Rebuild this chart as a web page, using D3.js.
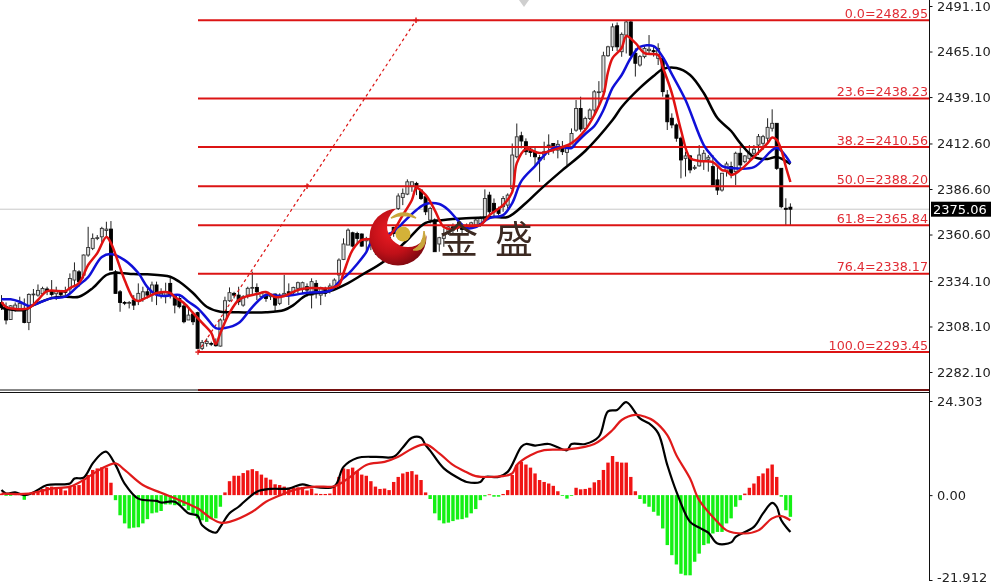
<!DOCTYPE html>
<html><head><meta charset="utf-8">
<script src="https://cdn.jsdelivr.net/npm/d3@7/dist/d3.min.js"></script>
<style>html,body{margin:0;padding:0;background:#fff;overflow:hidden}svg{display:block;filter:blur(0.45px)}</style>
</head><body><svg id="c" width="991" height="585"></svg>
<script>
const highs=[2326,2321.8,2320.3,2321.8,2325.1,2324.1,2327,2329.5,2332.1,2330.8,
2330.8,2334.6,2330.8,2328.9,2330.8,2338.4,2344.7,2340.3,2349.2,2365,
2361.2,2360.3,2365,2367.9,2368.3,2340.3,2328.9,2322.6,2322.6,2326,
2332.7,2330.8,2329.9,2333.7,2333.7,2329.9,2333.1,2336.5,2326,2326,
2321.3,2318.4,2316.5,2316.5,2300.4,2301.3,2299.4,2301.3,2312.7,2325.1,
2330.4,2327.9,2330.8,2326,2330.8,2339.4,2332.7,2327.9,2327,2327,
2327,2327,2337.5,2332.7,2330.8,2333.7,2333.7,2332.7,2335.6,2334.6,
2330.8,2330.8,2332.7,2335.6,2347,2358.4,2364.1,2362.2,2362.2,2361.2,
2359.3,2359.3,2358,2360,2359,2362,2365,2384.1,2386.9,2392.1,
2390.7,2390.7,2386,2382.2,2376.5,2369.8,2359.3,2364.1,2366,2366.9,
2367.9,2366.9,2366.9,2367.9,2369.8,2370.8,2386.4,2385,2381.2,2376.5,
2382.6,2384.1,2412.6,2424,2419.3,2415.5,2410.7,2410.7,2406,2413.6,
2417.8,2412.6,2414.5,2414,2411.7,2421.2,2437.4,2439.3,2427.9,2432.6,
2443.1,2448.2,2465,2468.4,2481.1,2481.7,2476,2483,2483,2466.9,
2463.1,2468.8,2474.5,2468.8,2469.8,2462.2,2443.1,2429.8,2424.1,2416.5,
2407.9,2406,2400.3,2411.7,2408.9,2406,2406,2399.4,2395.6,2402.2,
2402.2,2407.9,2411.7,2406,2411.7,2411.7,2418,2417.5,2427,2432.1,
2424.1,2398.4,2381.3,2378.4];
const lows=[2317.5,2309.3,2311.8,2316.5,2317.5,2309.9,2306,2321.3,2325.1,2326,
2326,2325.1,2323.2,2325.1,2326,2327,2330.8,2330.8,2335.5,2347.9,
2351.7,2357.4,2355.5,2359.3,2340.3,2327,2316.5,2320.3,2318.4,2317.5,
2320.3,2322.2,2324.1,2322.2,2320.3,2324.1,2321.3,2324.1,2315.6,2318.4,
2309.9,2311.8,2308.9,2295.6,2294.6,2296.6,2296.9,2296.6,2296.6,2311.8,
2322.2,2324.1,2320.3,2319.4,2324.1,2326,2323.2,2324.1,2322.2,2323.2,
2316.5,2320.3,2325.1,2320.3,2326,2327,2327,2325.1,2318.4,2324.1,
2320.3,2325.1,2327,2329.8,2333.6,2346,2354.6,2353.3,2354.6,2353.6,
2350.8,2351.7,2349,2348,2350,2352,2359.3,2374.6,2377.4,2383.1,
2385,2383.1,2380.3,2371.7,2366.9,2350.8,2350.8,2353.6,2360.3,2361.2,
2362.2,2361.2,2362.2,2364.1,2365,2365,2367.9,2370.8,2370.8,2371.7,
2373.6,2375.5,2385,2404.1,2409.8,2406,2405,2399.3,2390.7,2403.1,
2406,2406.9,2404.1,2406,2400.3,2410.7,2419.3,2419.3,2420.2,2426,
2428.8,2433.6,2440.2,2462.1,2465.4,2465.4,2462.1,2464,2462.1,2450.8,
2456.5,2461.2,2463.1,2462.2,2457.4,2439.3,2420.3,2421.3,2413.6,2392.7,
2393.7,2395.6,2397.5,2399.4,2397.5,2396.5,2388.9,2383.2,2385.1,2393.7,
2392.7,2388.9,2397.5,2401.3,2402.2,2404.1,2406,2408.9,2412.7,2419.4,
2397.5,2375.6,2366,2366];
const opens=[2321.8,2319.4,2312.1,2317.5,2318,2318.4,2310.4,2326.2,2326,2326.8,
2329.5,2328.7,2326.8,2328.7,2328.3,2329.5,2334.6,2339.3,2337.4,2348.9,
2352.7,2358.4,2359.3,2362.9,2363.7,2339.3,2327.9,2321.8,2321.4,2323.2,
2322.8,2324.1,2327.9,2326,2331.8,2326,2326,2332.7,2325.5,2324.1,
2319.8,2311.8,2315.2,2316,2295.6,2298.4,2298.4,2299,2296.9,2311.8,
2322.8,2327,2326,2320.3,2326,2329.9,2330.4,2325.1,2326,2325.1,
2326.6,2321.3,2326,2327.9,2327.4,2329.9,2329.9,2330.8,2326,2332.7,
2326,2329.9,2328.9,2330.8,2337.5,2346.4,2354.6,2361.6,2361.2,2360.9,
2357,2354.6,2351,2357,2352,2354,2364.7,2375.5,2381.8,2383.7,
2388.3,2389.8,2386,2382.2,2368.9,2368.9,2355.2,2358.4,2362.2,2365,
2364.1,2365,2363.5,2364.7,2366,2366.9,2368.9,2383.1,2378.4,2375.5,
2376.5,2377.4,2386.9,2405,2417,2413.6,2409.4,2407.9,2404.5,2406,
2411.3,2412.6,2408.8,2409.8,2407.5,2410.7,2420.2,2432.6,2421.2,2426.9,
2431.7,2441.8,2442.1,2462.7,2467.8,2479.8,2465,2474.5,2482,2464.1,
2457.4,2462.2,2465.6,2465.6,2461.2,2461.2,2440.3,2427,2423.2,2415.6,
2404.1,2405.5,2398.4,2399.8,2402.8,2403.6,2399.4,2391.8,2386,2396.5,
2399.4,2396.5,2407,2402.2,2404.1,2407,2411.7,2412.7,2415.6,2421.3,
2424.1,2398.4,2375.6,2376.2];
const closes=[2318.8,2311.8,2319.9,2320.3,2321.3,2310.4,2326.4,2326.6,2328.7,2329.8,
2328.3,2326.4,2328.3,2326.4,2327.6,2335.5,2339.9,2333.6,2348.9,2353.2,
2358.4,2358.8,2364.1,2363.7,2340.3,2327,2321.8,2321.4,2321.8,2320.3,
2327,2327.9,2326,2331.8,2327,2327,2327.9,2326,2320.3,2319.4,
2310.8,2314.6,2310.8,2295.6,2299,2299.6,2298.1,2297.1,2311.8,2322.8,
2327.4,2326,2322.2,2325.1,2329.9,2330.4,2327.9,2327.4,2324.1,2326,
2320.3,2326,2327,2326,2330.4,2333.1,2333.1,2328.9,2333.7,2327,
2330.4,2327,2331.2,2334.6,2346,2355.2,2363.1,2354,2358.4,2354,
2358.4,2358.4,2355,2350,2356,2359,2361.2,2382.6,2384.1,2390.7,
2390.7,2386.9,2381.2,2373.6,2375.5,2350.8,2358.8,2361.2,2365,2363.1,
2366,2363.5,2365.4,2367.3,2368.9,2369.8,2381.2,2373.6,2373.6,2372.7,
2381.2,2383.1,2406,2416.4,2414,2407.9,2407.5,2405,2403.1,2407.9,
2411.7,2410.7,2412.1,2407.9,2409.8,2418.3,2432.6,2420.8,2426.9,2431.7,
2442.1,2442.1,2462.7,2467.8,2479.2,2467.8,2474.9,2482,2463,2458.4,
2462.2,2466.9,2466.4,2465,2466.9,2442.2,2425,2423.2,2415.6,2403.2,
2405.5,2397.5,2399,2406,2407,2404.7,2388.9,2386,2395.6,2400.9,
2395.6,2407,2400.3,2405.5,2407,2409.3,2416.5,2416.5,2421.8,2424.1,
2398.4,2376.5,2375,2375.06];

const redBars=[0,1,3,5,6,8,10,14,15,17,19,21,23,24,27,29,30,32,34,37,38,40,42,44,46,47,48,50,52,54,56,58,60,62,65,68,72,74,75,77,79,81,83,85,88,90,91,93,95,97,99,101,105,107,110,112,113,115,118,121,125,128,130,132,133,134,136,137,139,141,144,145,147,149,151,153,156,158,159,160,162,165,168,169,170,171,172,173];
const redMA=[2322.1,2319.2,2318.1,2318.1,2318.6,2323.2,2328.3,2328.3,2330,2332.9,2343.2,2350,2359.2,2355.7,2334.6,2323.8,2322.6,2324.9,2327.2,2327.2,2324.9,2321.5,2315.8,2310.1,2304.4,2298.1,2304.4,2315.8,2323.2,2325.5,2326.6,2327.8,2324.9,2325.5,2328.9,2330,2330,2331.8,2338.6,2351.8,2357.5,2358,2358.6,2359.7,2371.7,2380.3,2387.2,2383.2,2374.6,2364.9,2363.7,2365.5,2366,2371.7,2377.4,2384.9,2401.4,2409.4,2407.1,2408.9,2412.8,2420.3,2428.8,2440.3,2453.4,2461.4,2467.1,2473.9,2470,2464.2,2463.1,2456.2,2441.4,2420.3,2404.3,2402.6,2402,2397.4,2396.9,2394.6,2397.4,2404.9,2412.8,2416,2414.6,2408.9,2399.3,2390.6];
const blueBars=[0,2,4,6,8,11,14,17,19,22,24,27,30,32,34,36,39,41,43,45,47,49,52,55,58,61,64,67,72,74,76,78,80,81,84,87,88,91,93,96,98,100,102,104,107,110,112,114,117,120,122,125,126,128,130,132,134,136,138,140,143,145,147,150,154,156,158,160,165,170,173];
const blueMA=[2323.6,2323.6,2322.2,2319.8,2321.3,2324.3,2325.1,2331.8,2336.3,2347.8,2349.5,2346,2338.6,2330.6,2326.1,2325.5,2326.1,2322.2,2318.6,2312.9,2307.2,2307.2,2310.1,2319.2,2326.1,2325.5,2326.1,2327.4,2328.5,2333.5,2338,2343.8,2350.6,2355.7,2359.2,2364.3,2367.2,2374.6,2378,2378,2374.6,2368.9,2364.3,2364.9,2370,2371.7,2378.6,2391.1,2399.7,2408.3,2410.6,2410,2412.8,2418,2422.6,2431.7,2444.3,2451.7,2461.4,2467.7,2468.2,2462,2452.2,2437.4,2411.7,2404.9,2399.7,2398.6,2399.1,2410,2401.4];
const blackBars=[0,5,7,11,14,17,20,23,25,29,32,37,39,42,45,48,52,58,62,64,67,72,76,79,84,89,93,97,103,108,111,115,118,123,128,134,136,140,143,145,148,151,154,157,160,162,165,168,170,173];
const blackMA=[2318.6,2317.5,2320.3,2324.3,2325.1,2325.1,2330,2337.5,2338.8,2338,2337.9,2336.5,2333.6,2327.2,2319.4,2316.5,2316.2,2316.2,2317.5,2320.3,2326.1,2328.3,2332.9,2337.5,2345.5,2357.5,2367.2,2368.9,2370,2370.6,2370.6,2378.6,2386,2397.4,2408.3,2426,2433.4,2444.3,2451.1,2455.1,2455.7,2451.7,2441.4,2427.1,2419.7,2412.8,2404.9,2403.7,2404.9,2400.9];

const fibLabels=["0.0","23.6","38.2","50.0","61.8","76.4","100.0"];
const fibLevels=[2482.95,2438.23,2410.56,2388.20,2365.84,2338.17,2293.45];
const fibExtra=2271.8;
const priceTicks=[2491.10,2465.10,2439.10,2412.60,2386.60,2360.60,2334.10,2308.10,2282.10];
const lastPrice=2375.06;
const macdTicks=[24.303,0,-21.912];

const macdHist=[0.4,-0.2,-0.2,0.2,0.3,-1.2,0.3,0.9,1.1,1.6,2.1,2.2,2,1.9,1.2,2.4,2.4,2.6,3.9,5.2,6.5,6.9,7.2,7.1,3.2,-1.3,-5.2,-7.3,-8.6,-8.4,-8.3,-7.3,-6.2,-4.7,-4.5,-4.1,-2.4,-2.4,-2.6,-2.6,-2.8,-3.9,-4.7,-6,-6.5,-6.9,-6.2,-6,-3,0.7,3.6,5,5,5.7,6.4,6.7,6.2,5.3,4.5,4,2.8,2.6,2.2,1.9,1.9,2,2.1,1.2,1.7,0.4,0.3,0.3,0.4,2.2,4.7,6.9,6.7,7.1,6.2,5.3,5,3.6,2.2,1.6,1.7,1.3,3.4,4.7,
5.6,6,6.2,5.3,3.9,0.7,-1,-4.7,-6.5,-7.3,-7.1,-6.7,-6.3,-6.2,-5.8,-4.7,-3.6,-1.3,-0.3,0.2,-0.4,-0.4,0.3,1.3,5.2,7.8,8.6,7.9,7.1,5.6,3.9,3.4,3,2.4,1,-0.2,-0.9,-0.2,1.9,1.5,1.6,1.9,3.3,3.9,6.5,8.4,10.1,8.6,8.4,8.4,4.7,1,-1,-2.2,-3,-4.3,-5.3,-8.6,-12.9,-15.5,-17.9,-20.3,-20.7,-20.7,-17.2,-15.1,-12.9,-12.5,-9.9,-9.5,-9.5,-7.3,-6,-3,-1.3,0.4,1.9,3,4.9,5.6,6.9,7.9,4.7,-0.4,-3.9,-5.6];
const macdBars=[0,1,3,5,7,10,15,16,18,20,22,23,25,27,30,34,35,38,41,43,44,47,48,50,52,56,59,63,66,68,73,75,78,82,86,88,90,92,93,94,97,101,102,105,106,109,111,114,115,117,120,124,125,128,131,133,135,137,140,142,144,146,148,151,153,155,157,160,161,165,167,169,170,171,173];
const macdLine=[1.3,0.4,0.7,0,0.7,2.6,3,4.3,4.5,8.2,10.8,11.2,7.8,3,-0.9,-1.5,-1.9,-1.7,-4.7,-5.3,-7.8,-9.7,-8.2,-4.7,-3,0.9,1.6,1.7,2.8,2.2,2.3,7.3,9.6,9.9,9.9,12.3,14.8,14.8,12.9,11.5,6.9,3.9,3.4,3.4,4.7,4.7,6,12.5,13.2,12.8,13.2,11.6,13.2,13.2,15.1,21.6,22,24,19.8,18.5,16,7.8,0.9,-6.9,-8.4,-9.7,-12.5,-12.2,-10.8,-8.2,-4.7,-2,-3,-6.5,-9.5];
const signalBars=[0,6,11,15,18,22,25,27,31,35,39,43,46,48,50,55,58,62,65,69,73,76,80,84,87,90,93,96,99,102,104,110,112,113,116,119,124,130,134,136,139,141,143,146,148,151,153,157,159,163,166,169,171,173];
const signalLine=[0.4,0.4,1.7,2.2,3.9,6.9,8.2,6.5,2.6,0.6,-1.3,-3.4,-6,-7.1,-6.9,-4.3,-1.7,0.4,1.6,2.2,2.3,4.3,7.8,8.6,9.9,12,13.1,10.8,7.8,5.9,4.9,4.9,5.6,7.8,10.3,11.6,11.8,13.2,16.8,19.4,20.7,20.3,19.2,15.5,10.3,4.3,-1.3,-6.9,-9.1,-9.9,-9.1,-6,-5.4,-6.5];

const trendBars=[43.1,90.9];
const trendPrices=[2293.45,2482.95];

const svg=d3.select("#c");
const x=d3.scaleLinear().domain([0,173]).range([1.5,790.4]);
const y=d3.scaleLinear().domain([2491.1,2282.1]).range([6,372]);
const ym=d3.scaleLinear().domain([24.303,-21.912]).range([401,580]);
const axisX=929.5, fibStart=198;
const RED="#dc1414";

// last price line
svg.append("line").attr("x1",0).attr("x2",axisX).attr("y1",y(lastPrice)).attr("y2",y(lastPrice)).attr("stroke","#c8c8c8").attr("stroke-width",1);

// candles
const idx=d3.range(highs.length);
const cg=svg.append("g");
cg.selectAll("line").data(idx).join("line")
 .attr("x1",i=>x(i)).attr("x2",i=>x(i)).attr("y1",i=>y(highs[i])).attr("y2",i=>y(lows[i]))
 .attr("stroke","#222").attr("stroke-width",1);
cg.selectAll("rect").data(idx).join("rect")
 .attr("x",i=>x(i)-1.5).attr("width",3)
 .attr("y",i=>y(Math.max(opens[i],closes[i])))
 .attr("height",i=>Math.max(0.8,Math.abs(y(opens[i])-y(closes[i]))))
 .attr("fill",i=>closes[i]>=opens[i]?"#ddd":"#000")
 .attr("stroke",i=>closes[i]>=opens[i]?"#333":"#000").attr("stroke-width",0.9);

// fib levels
svg.selectAll("line.fib").data(fibLevels.concat([fibExtra])).join("line").attr("class","fib")
 .attr("x1",fibStart).attr("x2",axisX).attr("y1",d=>y(d)).attr("y2",d=>y(d))
 .attr("stroke",RED).attr("stroke-width",2);
svg.selectAll("text.fib").data(fibLevels).join("text").attr("class","fib")
 .attr("x",928).attr("y",d=>y(d)-2.5).attr("text-anchor","end")
 .attr("font-family","'DejaVu Sans'").attr("font-size",12.7).attr("fill","#e02c34")
 .text((d,i)=>fibLabels[i]+"="+d.toFixed(2));

// trend line
const tx=trendBars.map(x), ty=trendPrices.map(y);
svg.append("line").attr("x1",tx[0]).attr("y1",ty[0]).attr("x2",tx[1]).attr("y2",ty[1])
 .attr("stroke",RED).attr("stroke-width",1.2).attr("stroke-dasharray","3 3");
[[tx[0],ty[0]],[(tx[0]+tx[1])/2,y(fibLevels[3])],[tx[1],ty[1]]].forEach(p=>{
 svg.append("path").attr("transform",`translate(${p[0]},${p[1]})`)
  .attr("d",d3.symbol(d3.symbolCross,16)()).attr("fill",RED).attr("opacity",.8);
});

// moving averages
const ln=(xs,ys,sc)=>d3.line().x(d=>x(d)).y((d,i)=>sc(ys[i])).curve(d3.curveCatmullRom.alpha(0.5))(xs);
[[blackBars,blackMA,"#000"],[blueBars,blueMA,"#1010d8"],[redBars,redMA,"#e01212"]].forEach(s=>{
 svg.append("path").attr("d",ln(s[0],s[1],y)).attr("fill","none").attr("stroke",s[2]).attr("stroke-width",2.5);
});

// separators
[390,392.5].forEach(v=>svg.append("line").attr("x1",0).attr("x2",axisX).attr("y1",v).attr("y2",v).attr("stroke","#111").attr("stroke-width",1));

// MACD
svg.selectAll("rect.h").data(macdHist).join("rect").attr("class","h")
 .attr("x",(d,i)=>x(i)-1.7).attr("width",3.4)
 .attr("y",d=>ym(Math.max(0,d))).attr("height",d=>Math.abs(ym(d)-ym(0)))
 .attr("fill",d=>d>=0?"#f01414":"#14f014");
svg.append("path").attr("d",ln(macdBars,macdLine,ym)).attr("fill","none").attr("stroke","#000").attr("stroke-width",2.2);
svg.append("path").attr("d",ln(signalBars,signalLine,ym)).attr("fill","none").attr("stroke","#e01a1a").attr("stroke-width",2.2);

// axes
const fnt=g=>{g.select(".domain").remove();g.selectAll("line").attr("stroke","#111");
 g.selectAll("text").attr("font-family","'DejaVu Sans'").attr("font-size",13).attr("fill","#222").attr("x",7.5);};
svg.append("g").attr("transform",`translate(${axisX},0)`)
 .call(d3.axisRight(y).tickValues(priceTicks).tickSize(3).tickSizeOuter(0).tickFormat(d3.format(".2f"))).call(fnt);
const macdAxis=svg.append("g").attr("transform",`translate(${axisX},0)`)
 .call(d3.axisRight(ym).tickValues(macdTicks).tickSize(3).tickSizeOuter(0).tickFormat(d=>d===0?"0.00":d3.format(".3f")(d).replace("\u2212","-"))).call(fnt);
macdAxis.selectAll("text").filter(d=>d<0).attr("y",-3);
svg.append("line").attr("x1",axisX).attr("x2",axisX).attr("y1",0).attr("y2",581).attr("stroke","#111");

// last price tag
svg.append("rect").attr("x",931).attr("y",y(lastPrice)-7.5).attr("width",60).attr("height",15).attr("fill","#000");
svg.append("text").attr("x",933).attr("y",y(lastPrice)+5).attr("font-family","'DejaVu Sans'").attr("font-size",13).attr("fill","#fff").text(lastPrice.toFixed(2));

// top marker
svg.append("path").attr("d","M519,0L529,0L524,7Z").attr("fill","#cfcfcf");

// logo
const defs=svg.append("defs");
const gr=defs.append("radialGradient").attr("id","lg").attr("cx","40%").attr("cy","40%").attr("r","65%");
gr.append("stop").attr("offset","0%").attr("stop-color","#f01c24");
gr.append("stop").attr("offset","60%").attr("stop-color","#c01018");
gr.append("stop").attr("offset","100%").attr("stop-color","#7c0810");
const mk=defs.append("mask").attr("id","cr");
mk.append("rect").attr("x",360).attr("y",200).attr("width",90).attr("height",80).attr("fill","#fff");
mk.append("circle").attr("cx",408).attr("cy",226).attr("r",21).attr("fill","#000");
const lg=svg.append("g");
lg.append("circle").attr("cx",398).attr("cy",237).attr("r",28.5).attr("fill","url(#lg)").attr("mask","url(#cr)");
lg.append("circle").attr("cx",403).attr("cy",234).attr("r",7.5).attr("fill","#d4b238");
lg.append("path").attr("d","M391,218Q404,208 416,218Q404,213 391,218Z").attr("fill","#c9a53a").attr("stroke","#c9a53a").attr("stroke-width",1.5);
lg.append("path").attr("d","M413,250Q423,245 424,231Q428,243 421,249Q418,251 413,250Z").attr("fill","#c9a53a").attr("stroke","#c9a53a").attr("stroke-width",1);
svg.append("text").attr("x",459).attr("y",253).attr("text-anchor","middle").attr("font-family","'Noto Sans CJK SC'").attr("font-size",38).attr("fill","#3c2a22").text("金");
svg.append("text").attr("x",514).attr("y",253).attr("text-anchor","middle").attr("font-family","'Noto Sans CJK SC'").attr("font-size",38).attr("fill","#3c2a22").text("盛");
</script></body></html>
